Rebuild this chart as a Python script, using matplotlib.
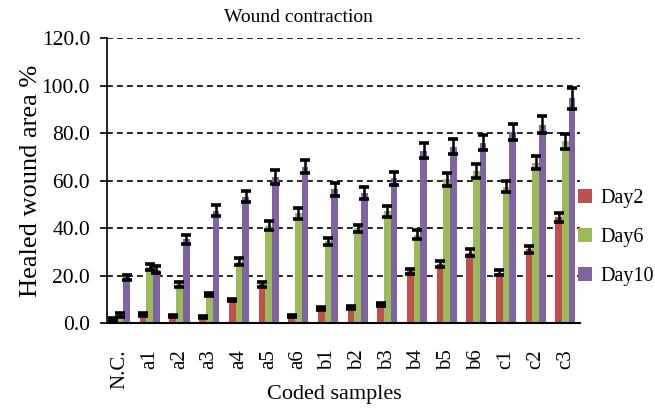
import numpy as np
import matplotlib
matplotlib.use("Agg")
import matplotlib.pyplot as plt

# data
samples = ["N.C.", "a1", "a2", "a3", "a4", "a5", "a6", "b1", "b2", "b3",
           "b4", "b5", "b6", "c1", "c2", "c3"]
day2 = [1.5, 3.5, 3.0, 2.5, 9.7, 16.3, 3.1, 6.2, 6.7, 7.7, 21.8, 24.8, 29.6, 21.3, 31.0, 44.5]
day6 = [3.5, 23.5, 16.4, 12.2, 25.8, 41.0, 46.2, 34.4, 39.9, 47.0, 37.2, 60.5, 64.0, 57.4, 67.5, 76.6]
day10 = [19.2, 22.4, 35.2, 47.4, 53.2, 61.5, 65.8, 56.3, 54.9, 60.9, 72.5, 74.2, 75.9, 80.6, 83.6, 94.7]
err2 = [0.5, 0.6, 0.5, 0.5, 0.6, 1.0, 0.5, 0.6, 0.6, 0.7, 1.0, 1.2, 1.5, 1.0, 1.3, 2.0]
err6 = [0.8, 1.2, 1.0, 0.6, 1.5, 2.0, 2.2, 1.6, 1.6, 2.2, 1.8, 2.6, 2.8, 2.4, 2.8, 3.2]
err10 = [1.2, 1.5, 1.8, 2.2, 2.4, 2.8, 2.8, 2.6, 2.6, 2.8, 3.2, 3.2, 3.2, 3.4, 3.6, 4.4]

series = [("Day2", day2, err2, "#C0504D"),
          ("Day6", day6, err6, "#9BBB59"),
          ("Day10", day10, err10, "#8064A2")]

plt.rcParams["font.family"] = ["Liberation Serif", "DejaVu Serif"]

fig = plt.figure(figsize=(6.55, 4.09), dpi=100)
ax = fig.add_axes([0.163, 0.21, 0.722, 0.697])

x = np.arange(len(samples))
w = 0.225
for i, (name, vals, errs, col) in enumerate(series):
    ax.bar(x + (i - 1) * w, vals, w, color=col, label=name, zorder=2,
           yerr=errs, error_kw=dict(ecolor="black", elinewidth=1.8,
                                    capsize=3.8, capthick=2.6, zorder=3))

ax.set_xlim(-0.45, 15.48)
ax.set_ylim(0, 120)
ax.set_yticks(np.arange(0, 121, 20))
ax.set_yticklabels(["%.1f" % v for v in np.arange(0, 121, 20)], fontsize=15.5)
ax.set_xticks(x)
ax.set_xticklabels(samples, rotation=90, fontsize=15)
ax.tick_params(axis="x", length=0, pad=19)
ax.tick_params(axis="y", direction="out", length=5, width=1.2, pad=7)

ax.yaxis.grid(True, linestyle=(0, (3.5, 2.5)), color="black", linewidth=1.2, zorder=0)
ax.set_axisbelow(True)
for s in ["top", "right"]:
    ax.spines[s].set_visible(False)
ax.spines["left"].set_linewidth(1.2)
ax.spines["bottom"].set_linewidth(1.5)

fig.text(298 / 655, 1 - 17 / 409, "Wound contraction", fontsize=14,
         ha="center", va="center")
ax.set_ylabel("Healed wound area %", fontsize=19, labelpad=0)
fig.text(334 / 655, 1 - 395 / 409, "Coded samples", fontsize=16,
         ha="center", va="center")

ax.legend(loc="center left", bbox_to_anchor=(0.98, 0.30), frameon=False,
          fontsize=14.5, handlelength=0.7, handleheight=0.7, handletextpad=0.4,
          labelspacing=1.0, borderaxespad=0)

fig.savefig("out.png", dpi=100)
